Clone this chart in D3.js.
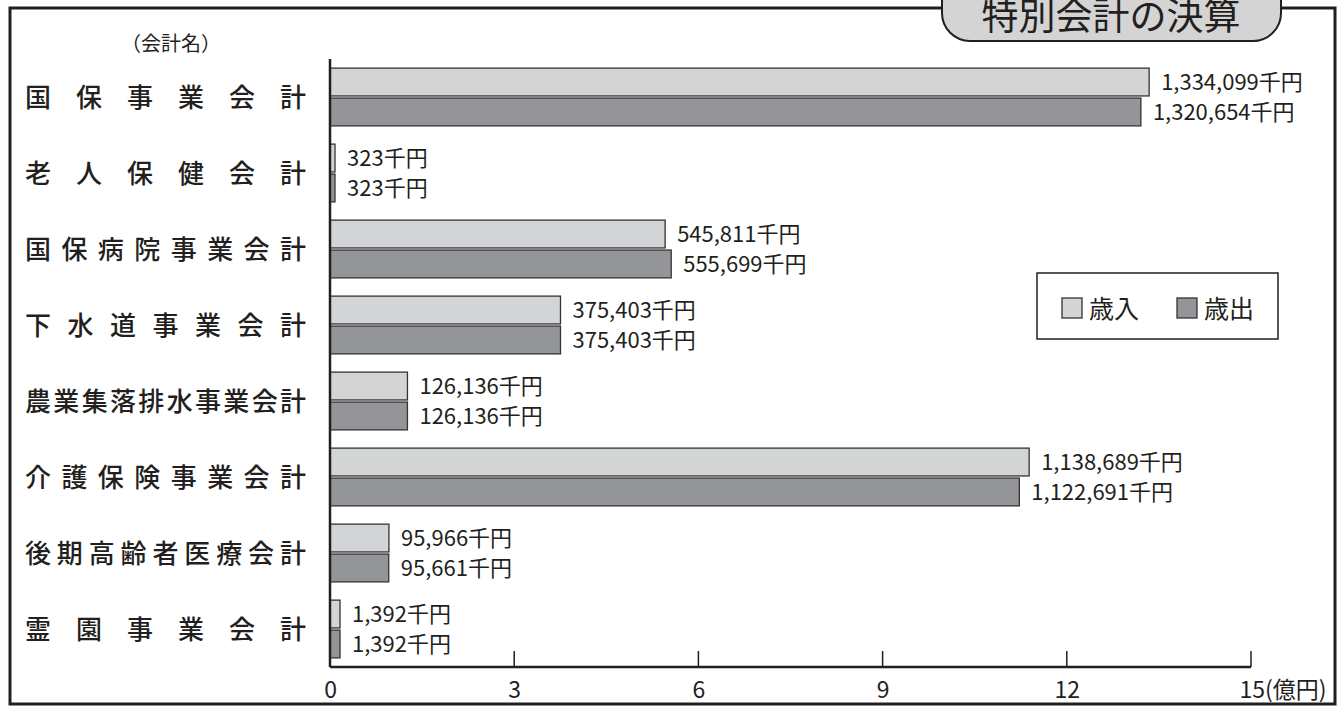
<!DOCTYPE html>
<html><head><meta charset="utf-8">
<script src="https://cdn.jsdelivr.net/npm/d3@7/dist/d3.min.js"></script>
<style>body{margin:0;background:#fff}svg{display:block}</style>
</head><body>
<svg id="c" width="1343" height="709"></svg>
<script>
const categories = ["国保事業会計","老人保健会計","国保病院事業会計","下水道事業会計","農業集落排水事業会計","介護保険事業会計","後期高齢者医療会計","霊園事業会計"];
const revenue = [1334099, 323, 545811, 375403, 126136, 1138689, 95966, 1392]; // 千円
const expense = [1320654, 323, 555699, 375403, 126136, 1122691, 95661, 1392]; // 千円
const seriesNames = ["歳入","歳出"];
const tickValues = [0,3,6,9,12,15];
const title = "特別会計の決算";

const font = "'Noto Sans CJK JP','Noto Sans',sans-serif";
const colIn = "#d3d4d6", colOut = "#939598", stroke = "#333", ink = "#231f20";
const svg = d3.select("#c");

// frame
svg.append("path").attr("d", "M942,8 H10 V704 H1335 V8 H1282")
  .attr("fill","none").attr("stroke",ink).attr("stroke-width",3);
// title pill
svg.append("rect").attr("x",942).attr("y",-30).attr("width",339).attr("height",71).attr("rx",28)
  .attr("fill","#d4d4d4").attr("stroke",ink).attr("stroke-width",2);
svg.append("text").attr("x",1111).attr("y",30).attr("text-anchor","middle")
  .attr("font-family",font).attr("font-size",37).attr("fill",ink).text(title);

svg.append("text").attr("x",171).attr("y",51).attr("text-anchor","middle")
  .attr("font-family",font).attr("font-size",20).attr("fill",ink).text("（会計名）");

const x = d3.scaleLinear().domain([0,15]).range([330,1251]);
const y = d3.scaleBand().domain(categories).range([59,667]).paddingInner(0.24).paddingOuter(0.12);
const sub = d3.scaleBand().domain(seriesNames).range([0,y.bandwidth()]).paddingInner(0.07);

const g = svg.append("g");
categories.forEach((c,i)=>{
  const vals = [revenue[i], expense[i]];
  vals.forEach((v,j)=>{
    const yy = y(c)+sub(seriesNames[j]);
    const w = Math.max(x(v/100000)-x(0), v < 1000 ? 5 : 10);
    g.append("rect").attr("x",x(0)).attr("y",yy).attr("width",w)
      .attr("height",sub.bandwidth()).attr("fill",j?colOut:colIn).attr("stroke",stroke).attr("stroke-width",1.3);
    g.append("text").attr("x",x(0)+w+12).attr("y",yy+sub.bandwidth()/2+8)
      .attr("font-family",font).attr("font-size",22).attr("fill",ink)
      .text(d3.format(",")(v)+"千円");
  });
  svg.append("text").attr("x",25).attr("y",y(c)+y.bandwidth()/2+10)
    .attr("font-family",font).attr("font-size",26).attr("font-weight",500).attr("fill",ink)
    .attr("textLength",281).attr("lengthAdjust","spacing").text(c);
});

// axes
const axY = 667;
const ax = svg.append("g").attr("transform",`translate(0,${axY})`)
  .call(d3.axisBottom(x).tickValues(tickValues).tickSize(0).tickFormat(d=>d===15?"15(億円)":d));
ax.select(".domain").remove();
ax.attr("font-size",23).attr("font-family",font);
ax.selectAll("text").attr("font-family",font).attr("font-size",23).attr("fill",ink).attr("dy",0).attr("y",31);
ax.selectAll("text").filter(d=>d===15).attr("text-anchor","start").attr("dx",-12);
svg.append("line").attr("x1",x(0)).attr("x2",x(15)).attr("y1",axY).attr("y2",axY).attr("stroke",ink).attr("stroke-width",2.5);
svg.append("line").attr("x1",x(0)).attr("x2",x(0)).attr("y1",59).attr("y2",axY).attr("stroke",ink).attr("stroke-width",2.5);
tickValues.slice(1).forEach(t=>svg.append("line").attr("x1",x(t)).attr("x2",x(t)).attr("y1",axY-16).attr("y2",axY).attr("stroke",ink).attr("stroke-width",1.5));

// legend
svg.append("rect").attr("x",1037).attr("y",273).attr("width",241).attr("height",66).attr("fill","#fff").attr("stroke",ink).attr("stroke-width",1.5);
seriesNames.forEach((s,j)=>{
  const lx = 1062 + j*115;
  svg.append("rect").attr("x",lx).attr("y",298).attr("width",20).attr("height",20).attr("fill",j?colOut:colIn).attr("stroke",stroke).attr("stroke-width",1.3);
  svg.append("text").attr("x",lx+27).attr("y",318).attr("font-family",font).attr("font-size",25).attr("fill",ink).text(s);
});
</script>
</body></html>
